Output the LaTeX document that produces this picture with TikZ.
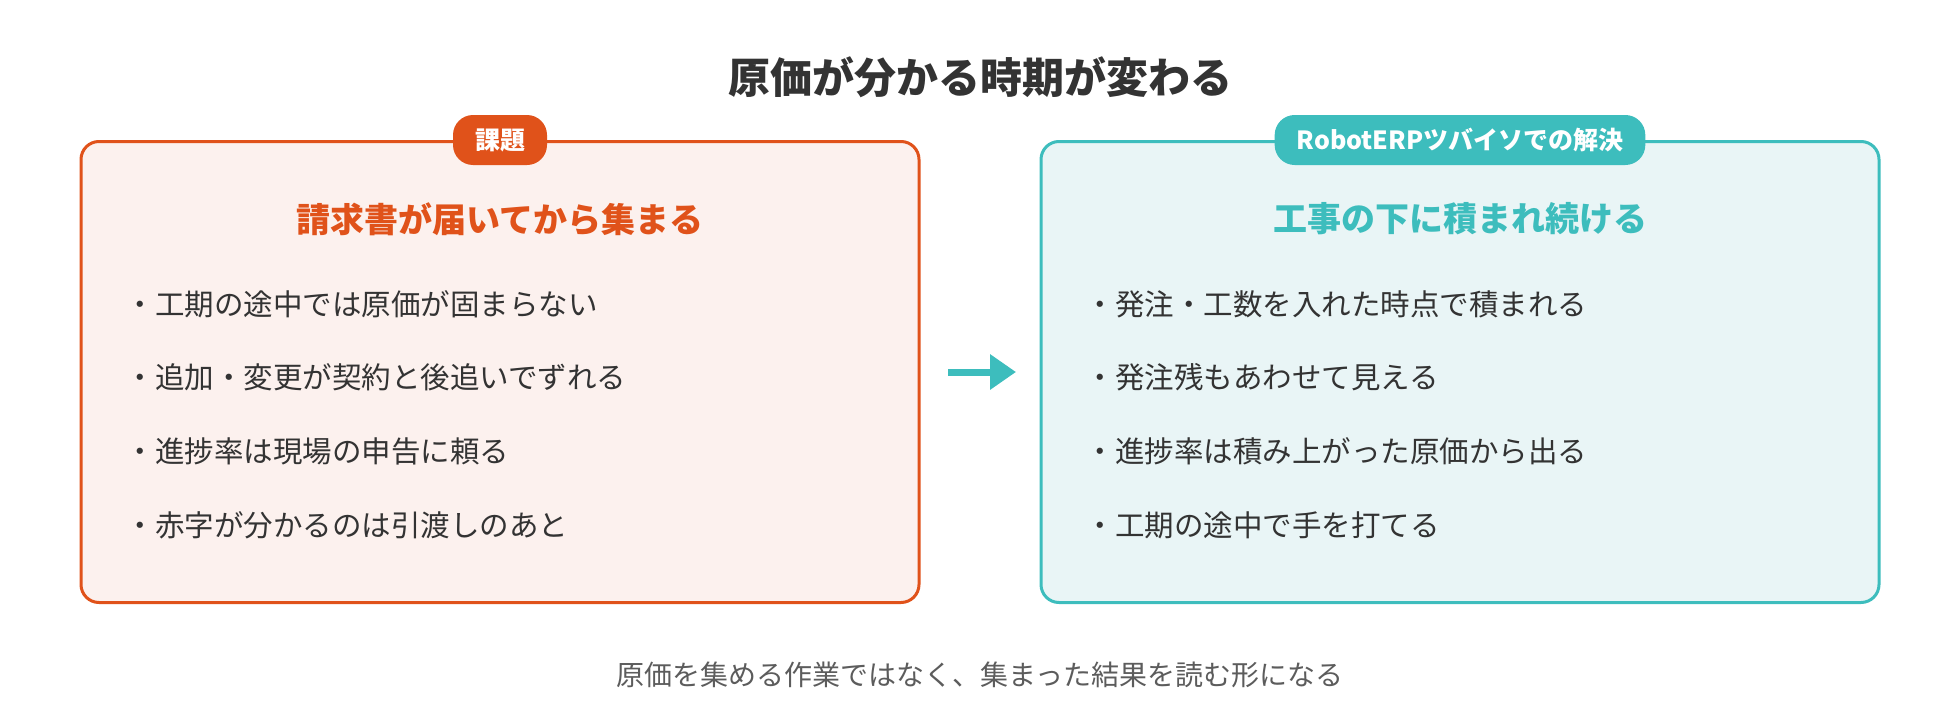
\documentclass[tikz,border=0pt]{standalone}
\usepackage{fontspec}
\setmainfont{Noto Sans CJK JP}
\usetikzlibrary{positioning,arrows.meta}
\definecolor{issue}{HTML}{E0521A}
\definecolor{issuebg}{HTML}{FCF1EE}
\definecolor{fix}{HTML}{3DBDBD}
\definecolor{fixbg}{HTML}{E9F5F6}
\definecolor{ink}{HTML}{333333}
\tikzset{
	panel/.style={draw=#1, line width=3pt, rounded corners=18pt, minimum width=838pt, minimum height=461pt},
	tag/.style={fill=#1, text=white, rounded corners=20pt, minimum height=50pt, inner xsep=22pt, font=\fontsize{25}{25}\selectfont\bfseries},
	point/.style={text=ink, anchor=west, font=\fontsize{29.5}{29.5}\selectfont},
}
\begin{document}
\begin{tikzpicture}[x=1pt,y=-1pt]
			\useasboundingbox (0,0) rectangle (1960,720);
			\node[text=ink, font=\fontsize{42}{42}\selectfont\bfseries] (title) at (980,77) {原価が分かる時期が変わる};
			
			\node[panel=issue, fill=issuebg] (left) at (500,372) {};
			\node[panel=fix, fill=fixbg] (right) at (1460,372) {};
			\node[tag=issue] (lefttag) at (left.north) {課題};
			\node[tag=fix] (righttag) at (right.north) {RobotERPツバイソでの解決};
			
			\node[text=issue, font=\fontsize{34}{34}\selectfont\bfseries] (lefthead) at (500,219) {請求書が届いてから集まる};
			\node[text=fix, font=\fontsize{34}{34}\selectfont\bfseries] (righthead) at (1460,219) {工事の下に積まれ続ける};
			
			\node[point] (l1) at (122,304) {・工期の途中では原価が固まらない};
			\node[point] (l2) at (122,377) {・追加・変更が契約と後追いでずれる};
			\node[point] (l3) at (122,451) {・進捗率は現場の申告に頼る};
			\node[point] (l4) at (122,525) {・赤字が分かるのは引渡しのあと};
			
			\node[point] (r1) at (1082,304) {・発注・工数を入れた時点で積まれる};
			\node[point] (r2) at (1082,377) {・発注残もあわせて見える};
			\node[point] (r3) at (1082,451) {・進捗率は積み上がった原価から出る};
			\node[point] (r4) at (1082,525) {・工期の途中で手を打てる};
			
			\coordinate (from) at (948,372);
			\coordinate (to) at (1016,372);
			\draw[fix, line width=7pt, -{Triangle[length=26pt,width=34pt]}] (from) -- (to);
			
			\node[text=ink!80, font=\fontsize{28}{28}\selectfont] (footer) at (980,675) {原価を集める作業ではなく、集まった結果を読む形になる};
		\end{tikzpicture}
\end{document}
